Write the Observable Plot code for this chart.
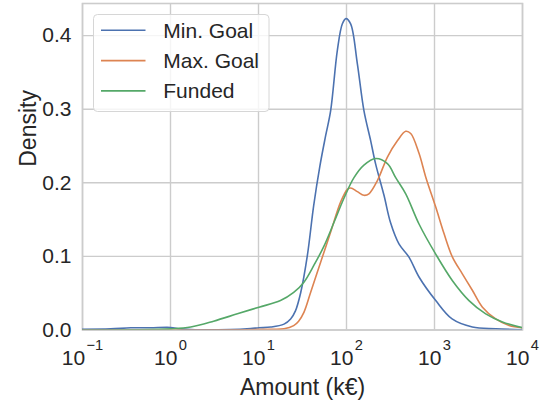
<!DOCTYPE html>
<html>
<head>
<meta charset="utf-8">
<script src="https://cdn.jsdelivr.net/npm/d3@7"></script>
<script src="https://cdn.jsdelivr.net/npm/@observablehq/plot@0.6"></script>
<style>
  html, body { margin: 0; padding: 0; background: #ffffff; }
  #chart { width: 547px; height: 400px; }
</style>
</head>
<body>
<div id="chart"></div>
<script>
// ---- data (x positions given as log10 of the amount in k€) ----
const seriesNames = ["Min. Goal", "Max. Goal", "Funded"];
const seriesColors = ["#4c72b0", "#dd8452", "#55a868"];

const minGoalLog10Amount = [-1, -0.68, -0.45, -0.23, 0.0, 0.11, 0.28, 0.68, 0.91, 1.005, 1.14, 1.29, 1.365, 1.42, 1.48, 1.555, 1.627, 1.698, 1.763, 1.82, 1.896, 1.953, 1.994, 2.047, 2.123, 2.198, 2.275, 2.33, 2.426, 2.50, 2.596, 2.71, 2.824, 3.014, 3.20, 3.43, 3.696, 4.0];
const minGoalDensity    = [0.001, 0.0015, 0.003, 0.003, 0.0035, 0.0015, 0.0003, 0.0006, 0.002, 0.003, 0.004, 0.008, 0.015, 0.026, 0.051, 0.101, 0.169, 0.223, 0.264, 0.298, 0.380, 0.416, 0.423, 0.416, 0.362, 0.298, 0.257, 0.226, 0.183, 0.146, 0.117, 0.099, 0.072, 0.040, 0.015, 0.004, 0.0016, 0.0003];

const maxGoalLog10Amount = [-1, 0.34, 0.8, 1.14, 1.29, 1.40, 1.456, 1.516, 1.592, 1.706, 1.82, 1.934, 2.01, 2.047, 2.123, 2.198, 2.255, 2.351, 2.465, 2.578, 2.673, 2.73, 2.824, 2.90, 3.014, 3.108, 3.204, 3.318, 3.43, 3.545, 3.696, 3.847, 4.0];
const maxGoalDensity    = [0.0, 0.0, 0.0003, 0.001, 0.0016, 0.006, 0.012, 0.024, 0.051, 0.092, 0.133, 0.174, 0.191, 0.193, 0.188, 0.183, 0.185, 0.203, 0.235, 0.257, 0.270, 0.267, 0.240, 0.208, 0.167, 0.131, 0.099, 0.076, 0.054, 0.031, 0.015, 0.006, 0.003];

const fundedLog10Amount = [-1, -0.45, 0.01, 0.23, 0.49, 0.76, 1.005, 1.25, 1.40, 1.516, 1.63, 1.744, 1.857, 1.971, 2.085, 2.198, 2.331, 2.465, 2.559, 2.673, 2.824, 3.014, 3.204, 3.392, 3.582, 3.772, 4.0];
const fundedDensity     = [0.0, 0.0003, 0.0015, 0.004, 0.012, 0.022, 0.031, 0.040, 0.051, 0.065, 0.088, 0.114, 0.146, 0.179, 0.207, 0.224, 0.233, 0.226, 0.207, 0.185, 0.144, 0.103, 0.067, 0.040, 0.022, 0.011, 0.003];

const xTickValues = [0.1, 1, 10, 100, 1000, 10000];
const yTickValues = [0, 0.1, 0.2, 0.3, 0.4];
const xLabel = "Amount (k€)";
const yLabel = "Density";

// ---- build table ----
const table = [];
[[minGoalLog10Amount, minGoalDensity], [maxGoalLog10Amount, maxGoalDensity], [fundedLog10Amount, fundedDensity]]
  .forEach(([xs, ys], i) => xs.forEach((e, j) => table.push({series: seriesNames[i], amount: Math.pow(10, e), density: ys[j]})));

const FONT = "'Liberation Sans', Arial, 'DejaVu Sans', sans-serif";
const TEXT = "#262626";
const GRID = "#cccccc";

const chart = Plot.plot({
  width: 547,
  height: 400,
  marginLeft: 82,
  marginRight: 25,
  marginTop: 3,
  marginBottom: 70.5,
  style: {fontFamily: FONT, color: TEXT, background: "#ffffff", overflow: "visible"},
  x: {type: "log", domain: [0.1, 10000]},
  y: {domain: [0, 0.4436]},
  color: {domain: seriesNames, range: seriesColors},
  marks: [
    Plot.gridX({ticks: xTickValues, stroke: GRID, strokeOpacity: 1, strokeWidth: 1.4}),
    Plot.gridY({ticks: yTickValues, stroke: GRID, strokeOpacity: 1, strokeWidth: 1.4}),
    Plot.frame({stroke: GRID, strokeWidth: 1.6}),
    Plot.axisY({ticks: yTickValues, tickSize: 0, tickPadding: 11, fontSize: 21, tickFormat: d3.format(".1f"), label: null}),
    Plot.axisX({ticks: xTickValues, tickSize: 0, tickPadding: 20, fontSize: 21, label: null,
      tickFormat: d => String(Math.round(Math.log10(d))).replace("-", "\u2212")}),
    Plot.line(table, {x: "amount", y: "density", stroke: "series", z: "series", curve: "catmull-rom", strokeWidth: 1.6, clip: true}),
    Plot.text([xLabel], {text: d => d, frameAnchor: "bottom", dy: 64.5, lineAnchor: "bottom", fontSize: 23, fill: TEXT}),
    Plot.text([yLabel], {text: d => d, frameAnchor: "left", dx: -47, rotate: -90, lineAnchor: "bottom", fontSize: 23, fill: TEXT})
  ]
});

// superscript exponents on x tick labels (10^n)
d3.select(chart).selectAll('g[aria-label="x-axis tick label"] text').each(function() {
  const exp = this.textContent;
  this.textContent = "";
  const t = d3.select(this);
  t.append("tspan").text("10");
  t.append("tspan").attr("dy", -14.5).attr("dx", 1.5).attr("font-size", 14.7).text(exp);
});

// legend (inside plot, upper left)
const svg = d3.select(chart);
const lg = svg.append("g").attr("font-family", FONT).attr("font-size", 21).attr("fill", TEXT).attr("text-anchor", "start");
lg.append("rect").attr("x", 93.5).attr("y", 14.5).attr("width", 175.5).attr("height", 97)
  .attr("rx", 4).attr("fill", "#ffffff").attr("fill-opacity", 0.8).attr("stroke", "#d6d6d6").attr("stroke-width", 1);
seriesNames.forEach((name, i) => {
  const y = 30.3 + i * 30.3;
  lg.append("line").attr("x1", 101).attr("x2", 145.5).attr("y1", y).attr("y2", y)
    .attr("stroke", seriesColors[i]).attr("stroke-width", 1.6);
  lg.append("text").attr("x", 163.3).attr("y", y + 7.4).attr("text-anchor", "start").text(name);
});

document.getElementById("chart").appendChild(chart);
</script>
</body>
</html>
